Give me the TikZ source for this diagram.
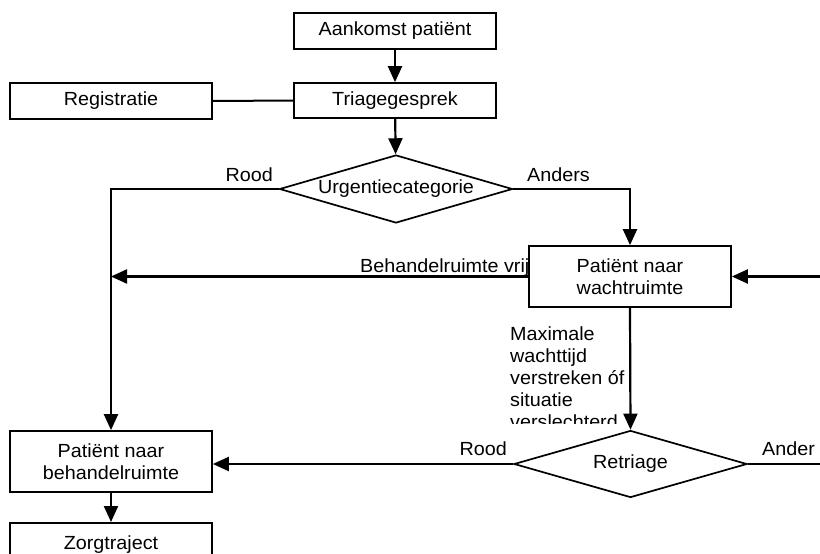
\documentclass[tikz,border=0pt]{standalone}
\usepackage{fontspec}
\setmainfont{Liberation Sans}[FakeStretch=1.04]
\usetikzlibrary{shapes.geometric,arrows.meta}
\begin{document}
\begin{tikzpicture}[x=1pt,y=-1pt,
  txt/.style={font=\fontsize{19}{21.8}\selectfont},
  box/.style={txt,draw,line width=1.7pt,fill=white,rectangle,minimum width=202pt,inner sep=0pt,align=center},
  dia/.style={txt,draw,line width=1.7pt,fill=white,diamond,minimum width=233pt,minimum height=67pt,aspect=3.4,inner sep=0pt},
  conn/.style={line width=2.2pt,-{Triangle[length=16pt,width=14pt]}},
  plain/.style={line width=2pt},
  lbl/.style={txt,inner sep=0pt}]
\clip (0,0) rectangle (820,554);
\fill[white] (0,0) rectangle (820,554);
% label partly hidden behind the box
\node[lbl,anchor=base west] (vrij) at (360,272) {Behandelruimte vrij};
% boxes
\node[box,minimum height=36pt] (aank) at (395,31) {Aankomst patiënt};
\node[box,minimum height=35pt] (triage) at (395,100.5) {Triagegesprek};
\node[box,minimum height=36pt] (reg) at (111,101) {Registratie};
\node[dia,minimum height=68pt] (urg) at (396,189) {Urgentiecategorie};
\node[box,minimum height=61pt] (wacht) at (630,276.5) {Patiënt naar\\wachtruimte};
\node[dia] (retr) at (630.5,464) {Retriage};
\node[box,minimum height=61pt] (behand) at (111,461.5) {Patiënt naar\\behandelruimte};
\node[box,minimum height=44pt,anchor=north] (zorg) at (111,522) {Zorgtraject};
% connectors
\draw[conn] (aank) -- (triage);
\draw[plain] (reg) -- (triage);
\draw[conn] (triage) -- (urg);
\draw[conn] (urg.west) -| (behand.north);
\draw[conn] (urg.east) -| (wacht.north);
\coordinate (j1) at (behand.north |- wacht.west);
\draw[conn] (wacht.west) -- (j1);
\coordinate (rin) at (822,276.5);
\draw[conn] (rin) -- (wacht.east);
\draw[conn] (wacht.south) -- (retr.north);
\draw[conn] (retr.west) -- (retr.west -| behand.east);
\coordinate (rout) at (822,464);
\draw[plain] (retr.east) -- (rout);
\draw[conn] (behand.south) -- (zorg.north);
% labels
\node[lbl,anchor=base east] (rood1) at (273,181.5) {Rood};
\node[lbl,anchor=base west] (anders1) at (527,181.5) {Anders};
\node[lbl,anchor=base east] (rood2) at (507,455) {Rood};
\node[lbl,anchor=base west] (anders2) at (762,455) {Ander};
\begin{scope}
\clip (500,300) rectangle (627,423);
\node[lbl,anchor=north west,align=left] (maxw) at (510,327) {Maximale\\wachttijd\\verstreken óf\\situatie\\verslechterd};
\end{scope}
\end{tikzpicture}
\end{document}
